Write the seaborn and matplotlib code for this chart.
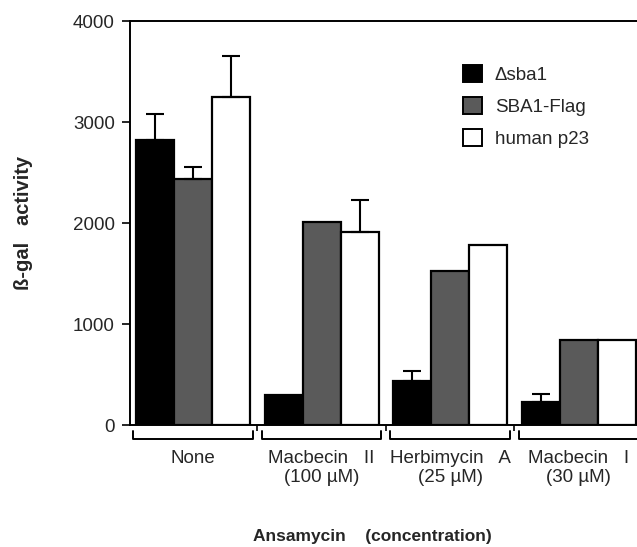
import pandas as pd
import seaborn as sns
import matplotlib.pyplot as plt
from matplotlib.patches import Patch

# --- data ---
groups = ["None", "Macbecin II", "Herbimycin A", "Macbecin I"]
group_labels = ["None", "Macbecin   II\n(100 \u00b5M)", "Herbimycin   A\n(25 \u00b5M)", "Macbecin   I\n(30 \u00b5M)"]
strains = ["\u0394sba1", "SBA1-Flag", "human p23"]

sba1_delta = [2820, 300, 436, 228]
sba1_flag = [2435, 2010, 1525, 842]
human_p23 = [3248, 1911, 1782, 842]

# upward error (0 = no error bar drawn)
err_delta = [260, 0, 100, 80]
err_flag = [120, 0, 0, 0]
err_p23 = [405, 317, 0, 0]

colors = ["#000000", "#5a5a5a", "#ffffff"]

sns.set_style("ticks")
plt.rcParams['font.family'] = ['Liberation Sans', 'DejaVu Sans']

rows = []
for s, vals in zip(strains, [sba1_delta, sba1_flag, human_p23]):
    for g, v in zip(groups, vals):
        rows.append({"group": g, "strain": s, "activity": v})
df = pd.DataFrame(rows)

fig = plt.figure(figsize=(6.37, 5.47), dpi=100)
ax = fig.add_axes([0.2041, 0.223, 0.803, 0.7386])

sns.barplot(data=df, x="group", y="activity", hue="strain",
            order=groups, hue_order=strains, palette=colors,
            width=0.887, errorbar=None, edgecolor="black",
            linewidth=1.6, saturation=1, legend=False, ax=ax)

# one-sided error bars on top of the bars
for cont, errs in zip(ax.containers, [err_delta, err_flag, err_p23]):
    for bar, e in zip(cont, errs):
        if e > 0:
            x = bar.get_x() + bar.get_width() / 2
            top = bar.get_height()
            ax.errorbar(x, top, yerr=[[0], [e]], fmt="none", ecolor="black",
                        elinewidth=1.5, capsize=6.5, capthick=1.5, zorder=3)

ax.set_xlim(-0.49, 3.49)
ax.set_ylim(0, 4000)
ax.set_yticks([0, 1000, 2000, 3000, 4000])

for side in ["left", "bottom", "top", "right"]:
    ax.spines[side].set_linewidth(1.4)
    ax.spines[side].set_color("black")

ax.tick_params(axis="y", length=6, width=1.4, pad=5, labelsize=13.5)
ax.set_xticks(range(len(groups)), labels=group_labels)
ax.tick_params(axis="x", which="major", length=0, pad=18, labelsize=13.5)
for lbl in ax.get_xticklabels():
    lbl.set_linespacing(1.15)
ax.set_xticks([0.5, 1.5, 2.5], minor=True)
ax.tick_params(axis="x", which="minor", length=4, width=1.4, direction="out")

# brackets under each group
trans = ax.get_xaxis_transform()
for i in range(len(groups)):
    ax.plot([i - 0.465, i - 0.465, i + 0.465, i + 0.465],
            [-0.015, -0.035, -0.035, -0.015],
            color="black", lw=1.4, transform=trans, clip_on=False)

ax.set_xlabel("")
ax.set_ylabel("\u00df-gal   activity", fontsize=14.5, fontweight="bold")
ax.yaxis.set_label_coords(-0.19, 0.5)
fig.text(372 / 637, 10 / 547, "Ansamycin    (concentration)",
         fontsize=12.5, fontweight="bold", ha="center", va="center")

handles = [Patch(facecolor=c, edgecolor="black", linewidth=1.4) for c in colors]
fig.legend(handles, strains, loc="upper left",
           bbox_to_anchor=(463 / 637, (547 - 65) / 547),
           frameon=False, fontsize=13.5, borderpad=0, borderaxespad=0,
           handlelength=1.0, handleheight=1.0, handletextpad=0.7,
           labelspacing=0.7)

fig.savefig("out.png", dpi=100)
